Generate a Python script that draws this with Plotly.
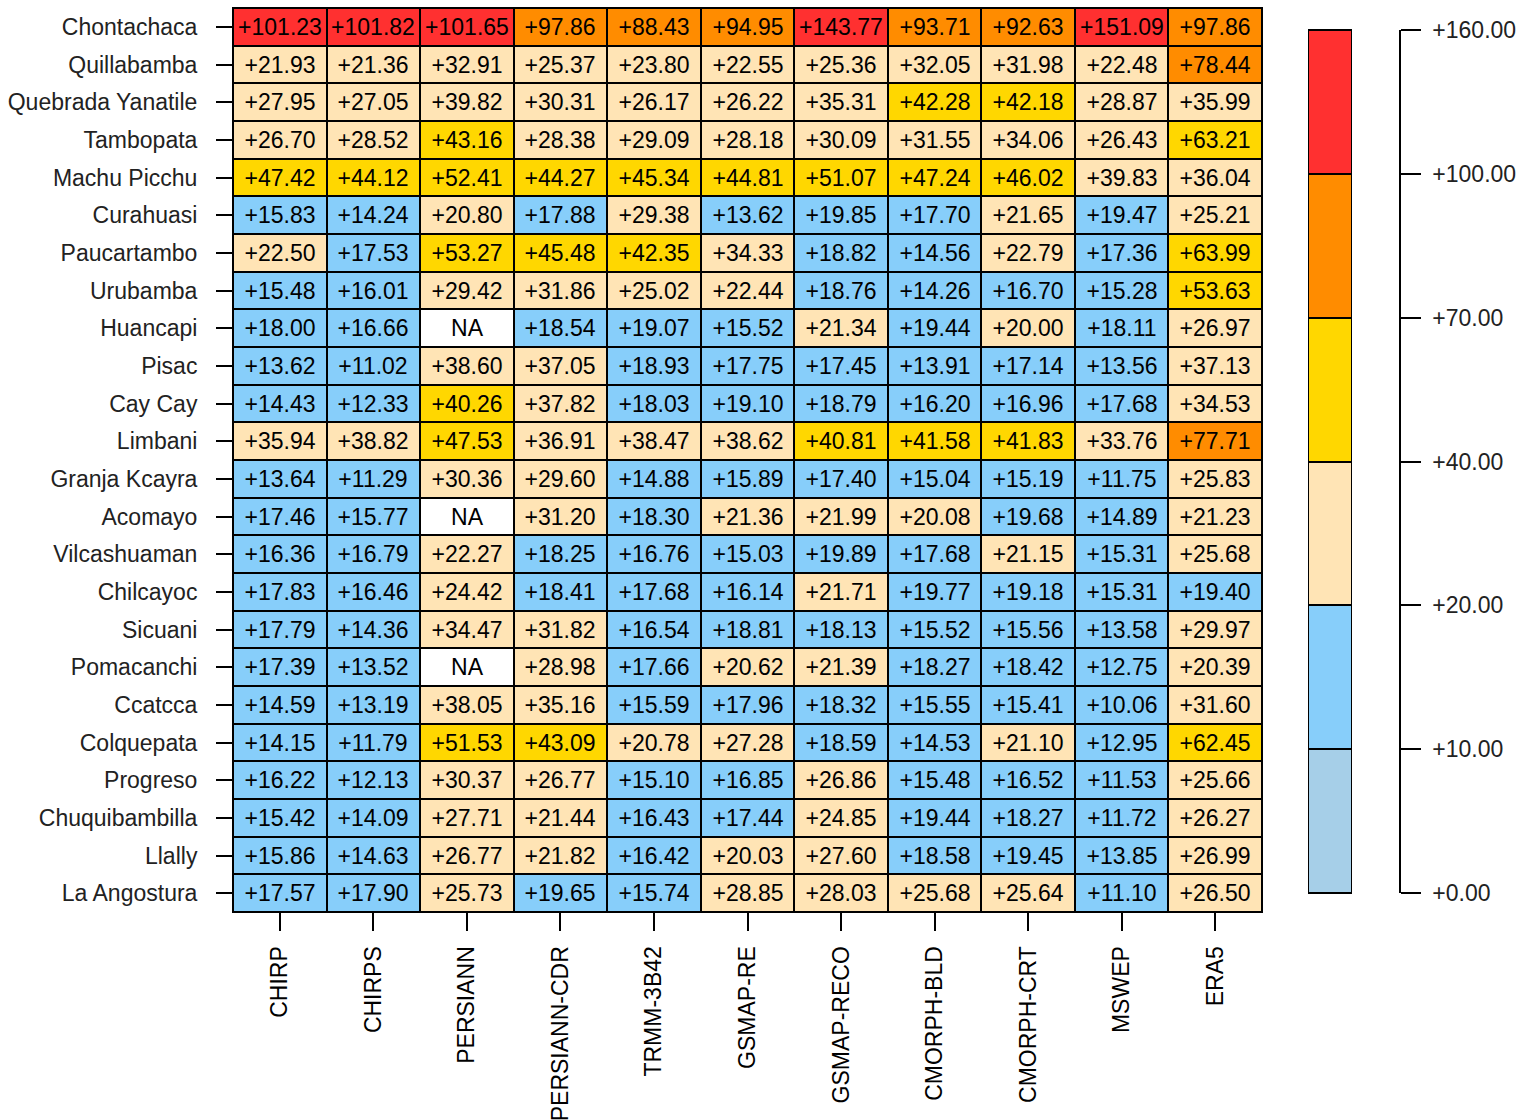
import plotly.graph_objects as go

products = ["CHIRP", "CHIRPS", "PERSIANN", "PERSIANN-CDR", "TRMM-3B42", "GSMAP-RE",
            "GSMAP-RECO", "CMORPH-BLD", "CMORPH-CRT", "MSWEP", "ERA5"]

stations = ["Chontachaca", "Quillabamba", "Quebrada Yanatile", "Tambopata", "Machu Picchu",
            "Curahuasi", "Paucartambo", "Urubamba", "Huancapi", "Pisac", "Cay Cay", "Limbani",
            "Granja Kcayra", "Acomayo", "Vilcashuaman", "Chilcayoc", "Sicuani", "Pomacanchi",
            "Ccatcca", "Colquepata", "Progreso", "Chuquibambilla", "Llally", "La Angostura"]

NA = None
values = [
    [101.23, 101.82, 101.65, 97.86, 88.43, 94.95, 143.77, 93.71, 92.63, 151.09, 97.86],
    [21.93, 21.36, 32.91, 25.37, 23.80, 22.55, 25.36, 32.05, 31.98, 22.48, 78.44],
    [27.95, 27.05, 39.82, 30.31, 26.17, 26.22, 35.31, 42.28, 42.18, 28.87, 35.99],
    [26.70, 28.52, 43.16, 28.38, 29.09, 28.18, 30.09, 31.55, 34.06, 26.43, 63.21],
    [47.42, 44.12, 52.41, 44.27, 45.34, 44.81, 51.07, 47.24, 46.02, 39.83, 36.04],
    [15.83, 14.24, 20.80, 17.88, 29.38, 13.62, 19.85, 17.70, 21.65, 19.47, 25.21],
    [22.50, 17.53, 53.27, 45.48, 42.35, 34.33, 18.82, 14.56, 22.79, 17.36, 63.99],
    [15.48, 16.01, 29.42, 31.86, 25.02, 22.44, 18.76, 14.26, 16.70, 15.28, 53.63],
    [18.00, 16.66, NA, 18.54, 19.07, 15.52, 21.34, 19.44, 20.00, 18.11, 26.97],
    [13.62, 11.02, 38.60, 37.05, 18.93, 17.75, 17.45, 13.91, 17.14, 13.56, 37.13],
    [14.43, 12.33, 40.26, 37.82, 18.03, 19.10, 18.79, 16.20, 16.96, 17.68, 34.53],
    [35.94, 38.82, 47.53, 36.91, 38.47, 38.62, 40.81, 41.58, 41.83, 33.76, 77.71],
    [13.64, 11.29, 30.36, 29.60, 14.88, 15.89, 17.40, 15.04, 15.19, 11.75, 25.83],
    [17.46, 15.77, NA, 31.20, 18.30, 21.36, 21.99, 20.08, 19.68, 14.89, 21.23],
    [16.36, 16.79, 22.27, 18.25, 16.76, 15.03, 19.89, 17.68, 21.15, 15.31, 25.68],
    [17.83, 16.46, 24.42, 18.41, 17.68, 16.14, 21.71, 19.77, 19.18, 15.31, 19.40],
    [17.79, 14.36, 34.47, 31.82, 16.54, 18.81, 18.13, 15.52, 15.56, 13.58, 29.97],
    [17.39, 13.52, NA, 28.98, 17.66, 20.62, 21.39, 18.27, 18.42, 12.75, 20.39],
    [14.59, 13.19, 38.05, 35.16, 15.59, 17.96, 18.32, 15.55, 15.41, 10.06, 31.60],
    [14.15, 11.79, 51.53, 43.09, 20.78, 27.28, 18.59, 14.53, 21.10, 12.95, 62.45],
    [16.22, 12.13, 30.37, 26.77, 15.10, 16.85, 26.86, 15.48, 16.52, 11.53, 25.66],
    [15.42, 14.09, 27.71, 21.44, 16.43, 17.44, 24.85, 19.44, 18.27, 11.72, 26.27],
    [15.86, 14.63, 26.77, 21.82, 16.42, 20.03, 27.60, 18.58, 19.45, 13.85, 26.99],
    [17.57, 17.90, 25.73, 19.65, 15.74, 28.85, 28.03, 25.68, 25.64, 11.10, 26.50],
]

breaks = [0, 10, 20, 40, 70, 100, 160]
bin_colors = ["#A6CFE8", "#87CEFA", "#FFE4B5", "#FFD700", "#FF8C00", "#FF3030"]

zmax = breaks[-1]
colorscale = []
for i, c in enumerate(bin_colors):
    colorscale.append([breaks[i] / zmax, c])
    colorscale.append([breaks[i + 1] / zmax, c])

FONT = "Liberation Sans, Arial, sans-serif"
FS = 23

text = [["" if v is None else "+%.2f" % v for v in row] for row in values]
na_z = [[1 if v is None else None for v in row] for row in values]
na_text = [["NA" if v is None else "" for v in row] for row in values]

fig = go.Figure()

fig.add_trace(go.Heatmap(
    z=na_z, x=products, y=stations, text=na_text, texttemplate="%{text}",
    textfont=dict(family=FONT, size=FS, color="black"),
    colorscale=[[0, "white"], [1, "white"]], showscale=False,
    xgap=2, ygap=2, hoverinfo="skip", xaxis="x", yaxis="y"))

fig.add_trace(go.Heatmap(
    z=values, x=products, y=stations, text=text, texttemplate="%{text}",
    textfont=dict(family=FONT, size=FS, color="black"),
    colorscale=colorscale, zmin=0, zmax=zmax, showscale=False,
    xgap=2, ygap=2, xaxis="x", yaxis="y"))

# discrete legend bar (equal-height blocks per bin)
mids = [[(breaks[i] + breaks[i + 1]) / 2] for i in range(len(bin_colors))]
fig.add_trace(go.Heatmap(
    z=mids, x=[0], y=[i + 0.5 for i in range(len(bin_colors))],
    colorscale=colorscale, zmin=0, zmax=zmax, showscale=False,
    xgap=2, ygap=2, hoverinfo="skip", xaxis="x2", yaxis="y2"))

L, T, B = 233, 8, 208
W, H = 1526, 1120
pw = W - L
ph = H - T - B

def fx(px):
    return (px - L) / pw

def fy(py):
    return (H - B - py) / ph

fig.update_layout(
    width=W, height=H,
    margin=dict(l=L, r=0, t=T, b=B, pad=0),
    paper_bgcolor="white", plot_bgcolor="black",
    font=dict(family=FONT, size=FS, color="black"),
    xaxis=dict(domain=[0, fx(1262)], anchor="y", type="category",
               tickangle=-90, ticks="outside", ticklen=18, tickwidth=1.5, tickcolor="black",
               ticklabelstandoff=6, showline=True, mirror=True, linecolor="black", linewidth=1,
               showgrid=False, zeroline=False, automargin=False,
               tickfont=dict(family=FONT, size=FS, color="black")),
    yaxis=dict(domain=[0, 1], anchor="x", type="category", autorange="reversed",
               ticks="outside", ticklen=16, tickwidth=1.5, tickcolor="black",
               ticklabelstandoff=14, showline=True, mirror=True, linecolor="black", linewidth=1,
               showgrid=False, zeroline=False, automargin=False,
               tickfont=dict(family=FONT, size=FS, color="#222")),
    xaxis2=dict(domain=[fx(1308), fx(1352)], anchor="y2", range=[-0.5, 0.5],
                showticklabels=False, ticks="", showgrid=False, zeroline=False,
                showline=True, mirror=True, linecolor="black", linewidth=1, automargin=False),
    yaxis2=dict(domain=[fy(893), fy(30)], anchor="free", position=fx(1400), side="right",
                range=[0, len(bin_colors)],
                tickvals=list(range(len(breaks))),
                ticktext=["+%.2f" % b for b in breaks],
                ticks="outside", ticklen=20, tickwidth=1.5, tickcolor="black",
                ticklabelstandoff=7,
                showline=True, linecolor="black", linewidth=1.5,
                showgrid=False, zeroline=False, automargin=False,
                tickfont=dict(family=FONT, size=FS, color="#222")),
)

fig.write_html("out.html")
